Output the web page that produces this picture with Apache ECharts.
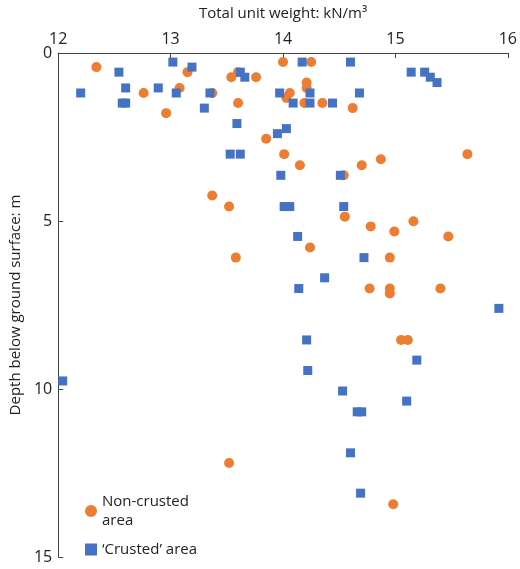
<!DOCTYPE html>
<html><head><meta charset="utf-8">
<script src="https://cdn.jsdelivr.net/npm/echarts@6/dist/echarts.min.js"></script>
<style>html,body{margin:0;padding:0;background:#fff}#c{width:520px;height:569px}</style>
</head><body><div id="c"></div>
<script>
const nonCrusted = [
[12.34,0.42],[13.15,0.57],[14.0,0.27],[14.25,0.27],[13.6,0.57],[13.54,0.72],[13.76,0.72],
[14.21,0.88],[14.21,1.04],[13.08,1.04],[12.76,1.19],[13.37,1.19],[14.06,1.19],[14.03,1.34],
[13.6,1.49],[14.19,1.49],[14.35,1.49],[14.62,1.64],[12.96,1.79],[13.85,2.55],[14.01,3.01],
[15.64,3.01],[14.15,3.34],[14.7,3.34],[14.87,3.16],[14.54,3.64],[13.37,4.24],[13.52,4.57],
[14.55,4.87],[14.78,5.16],[14.99,5.31],[15.16,5.01],[15.47,5.46],[14.24,5.79],[13.58,6.09],
[14.95,6.09],[14.77,7.01],[14.95,7.01],[14.95,7.16],[15.4,7.01],[15.05,8.54],[15.11,8.54],
[13.52,12.2],[14.98,13.43]
];
const crusted = [
[13.02,0.27],[13.19,0.42],[12.54,0.57],[14.17,0.27],[14.6,0.27],[13.62,0.57],[13.66,0.72],
[15.14,0.57],[15.26,0.57],[15.31,0.72],[15.37,0.88],[12.6,1.04],[12.89,1.04],[12.2,1.19],
[13.05,1.19],[13.35,1.19],[13.97,1.19],[14.24,1.19],[14.68,1.19],[12.57,1.49],[12.6,1.49],
[14.09,1.49],[14.24,1.49],[14.44,1.49],[13.3,1.64],[13.59,2.1],[14.03,2.25],[13.95,2.4],
[13.53,3.01],[13.62,3.01],[13.98,3.64],[14.51,3.64],[14.01,4.57],[14.06,4.57],[14.54,4.57],
[14.13,5.46],[14.72,6.09],[14.37,6.69],[14.14,7.01],[15.92,7.6],[14.21,8.54],[15.19,9.14],
[14.22,9.45],[12.04,9.76],[14.53,10.06],[15.1,10.36],[14.66,10.68],[14.7,10.68],[14.6,11.9],
[14.69,13.1]
];
const F = '"Open Sans", "Noto Sans", sans-serif';
const ch = echarts.init(document.getElementById('c'));
ch.setOption({
  animation:false,
  grid:{left:52,right:11,top:53,bottom:12},
  xAxis:{type:'value',position:'top',min:12,max:16,interval:1,
    name:'Total unit weight: kN/m³',nameLocation:'middle',nameGap:32,
    nameTextStyle:{color:'#222',fontSize:15,fontFamily:F},
    axisLine:{lineStyle:{color:'#444'}},axisTick:{show:true,inside:true,length:5,lineStyle:{color:'#444'}},
    axisLabel:{color:'#222',fontSize:16,fontFamily:F,margin:6},splitLine:{show:false}},
  yAxis:{type:'value',inverse:true,min:0,max:15,interval:5,
    name:'Depth below ground surface: m',nameLocation:'middle',nameGap:34,
    nameTextStyle:{color:'#222',fontSize:15,fontFamily:F},
    axisLine:{show:true,lineStyle:{color:'#444'}},axisTick:{show:true,inside:true,length:5,lineStyle:{color:'#444'}},
    axisLabel:{color:'#222',fontSize:16,fontFamily:F,margin:6},splitLine:{show:false}},
  legend:{orient:'vertical',left:80,top:487,itemWidth:12,itemHeight:12,itemGap:10,
    textStyle:{color:'#222',fontSize:15,fontFamily:F,lineHeight:19},
    data:[{name:'Non-crusted\narea',icon:'circle'},{name:'\u2018Crusted\u2019 area',icon:'rect'}]},
  series:[
    {name:'Non-crusted\narea',type:'scatter',symbol:'circle',symbolSize:10,data:nonCrusted,
     itemStyle:{color:'#ED7D31',opacity:1}},
    {name:'\u2018Crusted\u2019 area',type:'scatter',symbol:'rect',symbolSize:9,data:crusted,
     itemStyle:{color:'#4472C4',opacity:1}}
  ]
});
</script></body></html>
